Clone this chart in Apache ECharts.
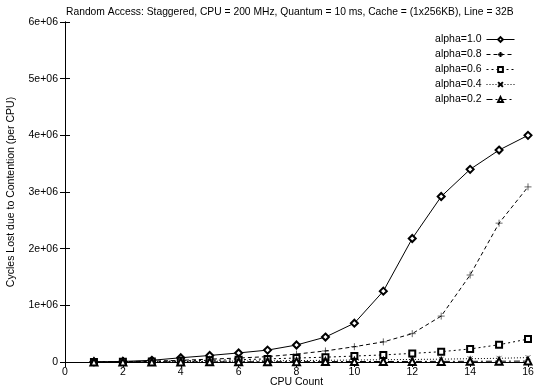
<!DOCTYPE html>
<html>
<head>
<meta charset="utf-8">
<script src="https://cdn.jsdelivr.net/npm/echarts@6/dist/echarts.min.js"></script>
<style>
  html, body { margin: 0; padding: 0; background: #fff; }
  #chart { width: 537px; height: 389px; }
</style>
</head>
<body>
<div id="chart"></div>
<script>
// CPU counts on the x axis
const cpuCount = [1, 2, 3, 4, 5, 6, 7, 8, 9, 10, 11, 12, 13, 14, 15, 16];

// Cycles lost due to contention (per CPU), one array per alpha
const alpha10 = [3000, 10000, 30000, 75000, 115000, 160000, 210000, 300000, 440000, 685000, 1250000, 2180000, 2920000, 3400000, 3740000, 4000000];
const alpha08 = [2000, 6000, 15000, 30000, 50000, 70000, 95000, 140000, 195000, 270000, 355000, 500000, 810000, 1535000, 2450000, 3090000];
const alpha06 = [1000, 3000, 8000, 20000, 30000, 40000, 55000, 70000, 85000, 105000, 125000, 152000, 182000, 230000, 305000, 405000];
const alpha04 = [500, 1500, 4000, 8000, 12000, 16000, 20000, 25000, 30000, 35000, 40000, 45000, 50000, 58000, 65000, 78000];
const alpha02 = [200, 500, 1000, 2000, 3000, 4000, 5000, 6000, 7000, 8000, 9000, 10000, 11000, 12000, 14000, 16000];

const seriesNames = ['alpha=1.0', 'alpha=0.8', 'alpha=0.6', 'alpha=0.4', 'alpha=0.2'];
const xTicks = [0, 2, 4, 6, 8, 10, 12, 14, 16];

const FONT = 'Liberation Sans, Arial, sans-serif';
const plusPath = 'path://M5 0 L5 10 M0 5 L10 5';
const crossPath = 'path://M0 0 L10 10 M0 10 L10 0';

function pairs(vals) { return cpuCount.map((c, i) => [c, vals[i]]); }

function mkSeries(name, vals, symbol, size, dash) {
  return {
    name: name,
    type: 'line',
    data: pairs(vals),
    symbol: symbol,
    symbolSize: size,
    showAllSymbol: true,
    lineStyle: { color: '#000', width: 1, type: dash },
    itemStyle: { color: '#000', borderColor: '#000', borderWidth: 0.6 },
    emphasis: { disabled: true },
    animation: false
  };
}

const chart = echarts.init(document.getElementById('chart'), null, { renderer: 'canvas' });

const axisCommon = {
  axisLine: { show: true, lineStyle: { color: '#000', width: 1 } },
  splitLine: { show: false }
};

chart.setOption({
  backgroundColor: '#fff',
  animation: false,
  title: {
    text: 'Random Access: Staggered, CPU = 200 MHz, Quantum = 10 ms, Cache = (1x256KB), Line = 32B',
    left: 61,
    top: 2,
    textStyle: { fontFamily: FONT, fontSize: 10.3, fontWeight: 'normal', color: '#000' }
  },
  legend: {
    orient: 'vertical',
    right: 17,
    top: 29,
    align: 'right',
    itemWidth: 28,
    itemHeight: 6,
    itemGap: 4,
    data: seriesNames,
    lineStyle: { width: 1 },
    textStyle: { fontFamily: FONT, fontSize: 10.5, color: '#000', padding: [0, 0, 0, 0] }
  },
  grid: { left: 65, right: 9, top: 22, bottom: 27, containLabel: false, outerBoundsMode: 'none' },
  xAxis: [
    Object.assign({
      type: 'value', min: 0, max: 16, interval: 2,
      name: 'CPU Count', nameLocation: 'middle', nameGap: 15, nameMoveOverlap: false,
      nameTextStyle: { fontFamily: FONT, fontSize: 10.5, color: '#000' },
      axisTick: { show: true, inside: true, length: 5, lineStyle: { color: '#000' } },
      axisLabel: { fontFamily: FONT, fontSize: 10.5, color: '#000', margin: 5,
        formatter: v => xTicks.includes(v) ? String(v) : '' }
    }, axisCommon),
    Object.assign({
      type: 'value', min: 0, max: 16, interval: 2, position: 'top',
      axisTick: { show: true, inside: true, length: 5, lineStyle: { color: '#000' } },
      axisLabel: { show: false }
    }, axisCommon)
  ],
  yAxis: [
    Object.assign({
      type: 'value', min: 0, max: 6000000, interval: 1000000,
      name: 'Cycles Lost due to Contention (per CPU)', nameLocation: 'middle', nameGap: 48,
      nameTextStyle: { fontFamily: FONT, fontSize: 10.5, color: '#000' },
      axisTick: { show: true, inside: true, length: 5, lineStyle: { color: '#000' } },
      axisLabel: { fontFamily: FONT, fontSize: 10.5, color: '#000', margin: 7,
        formatter: v => v === 0 ? '0' : (v / 1e6) + 'e+06' }
    }, axisCommon),
    Object.assign({
      type: 'value', min: 0, max: 6000000, interval: 1000000, position: 'right',
      axisTick: { show: true, inside: true, length: 5, lineStyle: { color: '#000' } },
      axisLabel: { show: false }
    }, axisCommon)
  ],
  series: [
    mkSeries(seriesNames[0], alpha10, 'emptyDiamond', 7, 'solid'),
    mkSeries(seriesNames[1], alpha08, plusPath, 7, [4, 3]),
    mkSeries(seriesNames[2], alpha06, 'emptyRect', 6, [2, 3]),
    mkSeries(seriesNames[3], alpha04, crossPath, 5, [1, 2]),
    mkSeries(seriesNames[4], alpha02, 'emptyTriangle', 7, [6, 3, 2, 3])
  ]
});
</script>
</body>
</html>
